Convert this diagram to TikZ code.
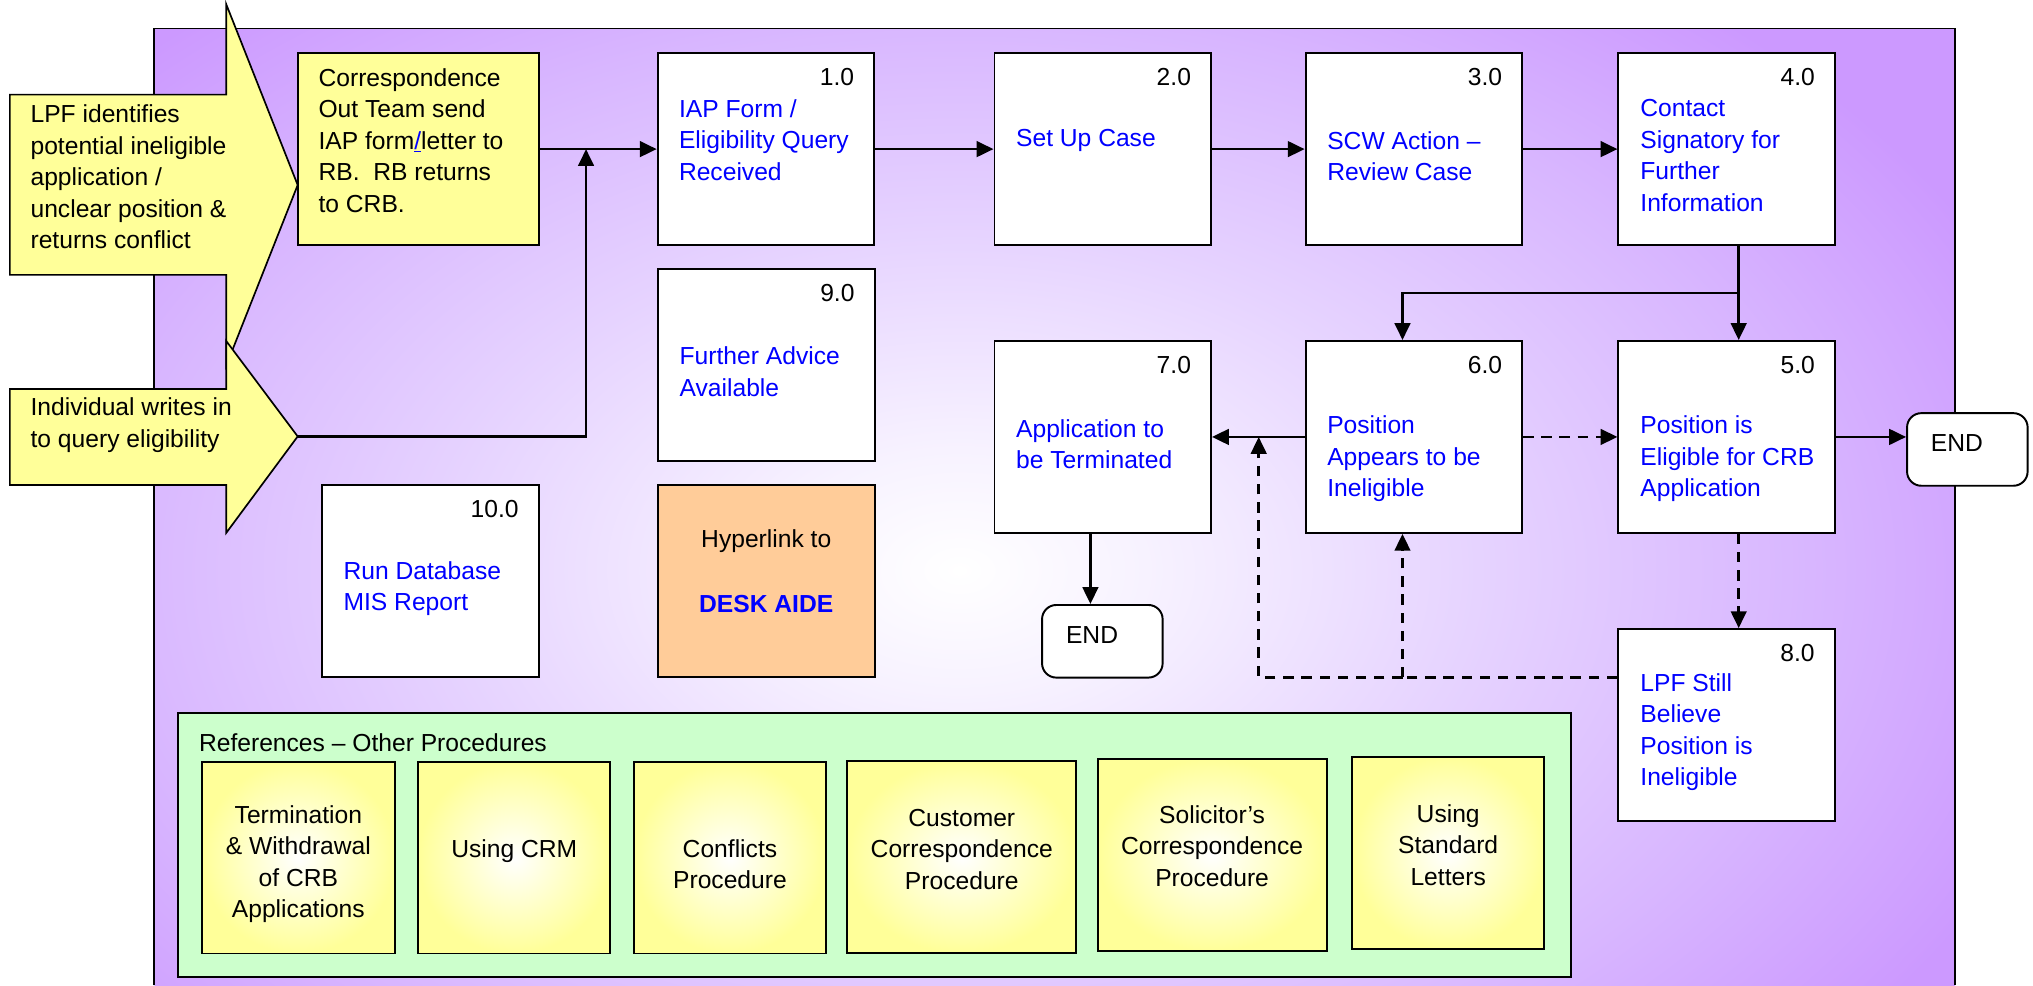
\documentclass[tikz,border=0pt]{standalone}
\usepackage{fontspec}
\setmainfont{Liberation Sans}
\usetikzlibrary{arrows.meta}
\definecolor{purp}{HTML}{CC99FF}
\definecolor{bgA}{HTML}{F7F2FF}
\definecolor{bgB}{HTML}{E6D3FF}
\definecolor{bgC}{HTML}{D8B6FF}
\definecolor{yel}{HTML}{FFFF99}
\definecolor{grn}{HTML}{CCFFCC}
\definecolor{peach}{HTML}{FFCC99}
\definecolor{txtblue}{HTML}{0000FF}
\pgfdeclareradialshading{bgshade}{\pgfpoint{0bp}{0bp}}{color(0bp)=(white); color(4.5bp)=(bgA); color(12.5bp)=(bgB); color(20.5bp)=(bgC); color(27.5bp)=(purp); color(50bp)=(purp)}
\begin{document}
\begin{tikzpicture}[x=1pt,y=-1pt,
  font=\fontsize{19}{24.3}\selectfont,
  pbox/.style={draw, line width=1.5pt, fill=white, inner sep=0pt, minimum width=167pt, minimum height=148pt},
  num/.style={anchor=east, inner sep=0pt},
  desc/.style={anchor=west, align=left, text=txtblue, inner sep=0pt},
  plain/.style={anchor=west, align=left, inner sep=0pt},
  ctext/.style={align=center, inner sep=0pt},
  arr/.style={line width=2.1pt, -{Triangle[length=13pt,width=12pt]}},
  ln/.style={line width=2.1pt},
  dsh/.style={dash pattern=on 8pt off 6pt},
  refbox/.style={draw, line width=1.5pt, inner color=white, outer color=yel, inner sep=0pt, minimum height=148pt},
  endbox/.style={draw, line width=1.5pt, fill=white, rounded corners=11pt, inner sep=0pt, minimum width=93pt, minimum height=56pt},
  bigarrow/.style={draw, line width=1.3pt, fill=yel, line join=miter}
]
\useasboundingbox (0,0) rectangle (1568,760);
% background panel
\fill[purp] (119,22) rectangle (1508,760);
\begin{scope}
  \clip (119,22) rectangle (1508,760);
  \shade[shading=bgshade] (-60,-80) rectangle (1540,960);
\end{scope}
\draw[line width=1.5pt] (119,760) -- (119,22) -- (1508,22) -- (1508,760);

% big input arrows
\draw[bigarrow] (7.6,73) -- (174.5,73) -- (174.5,3.3) -- (229.6,142.7) -- (174.5,282) -- (174.5,212) -- (7.6,212) -- cycle;
\coordinate (tip1) at (229.6,142.7);
\node[plain] (lpft) at (23.4,136.5) {LPF identifies\\potential ineligible\\application /\\unclear position \&\\returns conflict};
\draw[bigarrow] (7.6,300) -- (174.5,300) -- (174.5,263) -- (229.6,336.6) -- (174.5,411) -- (174.5,374) -- (7.6,374) -- cycle;
\coordinate (tip2) at (229.6,336.6);
\node[plain] (indt) at (23.4,328) {Individual writes in\\to query eligibility};

% correspondence box
\node[draw, line width=1.5pt, fill=yel, inner sep=0pt, minimum width=185.6pt, minimum height=147.7pt] (corr) at (322.8,115) {};
\node[plain] (corrt) at (245.5,108.5) {Correspondence\\Out Team send\\IAP form\textcolor{txtblue}{\underline{/}}letter to\\RB.\ \ RB returns\\to CRB.};

% process boxes
\node[pbox] (b1) at (590.75,115) {};
\node[pbox] (b2) at (850.5,115) {};
\node[pbox] (b3) at (1090.5,115) {};
\node[pbox] (b4) at (1331.75,115) {};
\node[pbox] (b9) at (591,281.5) {};
\node[pbox] (b10) at (332,448.2) {};
\node[pbox, fill=peach] (hyp) at (591.25,448.2) {};
\node[pbox] (b7) at (850.5,337) {};
\node[pbox] (b6) at (1090.5,337) {};
\node[pbox] (b5) at (1331.75,337) {};
\node[pbox] (b8) at (1331.5,559.2) {};

\node[num] (b1n) at ([xshift=-16pt,yshift=-19pt]b1.north east) {1.0};
\node[num] (b2n) at ([xshift=-16pt,yshift=-19pt]b2.north east) {2.0};
\node[num] (b3n) at ([xshift=-16pt,yshift=-19pt]b3.north east) {3.0};
\node[num] (b4n) at ([xshift=-16pt,yshift=-19pt]b4.north east) {4.0};
\node[num] (b5n) at ([xshift=-16pt,yshift=-19pt]b5.north east) {5.0};
\node[num] (b6n) at ([xshift=-16pt,yshift=-19pt]b6.north east) {6.0};
\node[num] (b7n) at ([xshift=-16pt,yshift=-19pt]b7.north east) {7.0};
\node[num] (b8n) at ([xshift=-16pt,yshift=-19pt]b8.north east) {8.0};
\node[num] (b9n) at ([xshift=-16pt,yshift=-19pt]b9.north east) {9.0};
\node[num] (b10n) at ([xshift=-16pt,yshift=-19pt]b10.north east) {10.0};

\node[desc] (b1t) at (523.5,108) {IAP Form /\\Eligibility Query\\Received};
\node[desc] (b2t) at (783.5,108.5) {Set Up Case};
\node[desc] (b3t) at (1023.5,120.5) {SCW Action --\\Review Case};
\node[desc] (b4t) at (1265,120) {Contact\\Signatory for\\Further\\Information};
\node[desc] (b5t) at (1265,354) {Position is\\Eligible for CRB\\Application};
\node[desc] (b6t) at (1023.5,354) {Position\\Appears to be\\Ineligible};
\node[desc] (b7t) at (783.5,342.5) {Application to\\be Terminated};
\node[desc] (b8t) at (1265,564.5) {LPF Still\\Believe\\Position is\\Ineligible};
\node[desc] (b9t) at (524,286.5) {Further Advice\\Available};
\node[desc] (b10t) at (264.8,454) {Run Database\\MIS Report};
\node[ctext] (hypt) at (591,417.5) {Hyperlink to};
\node[ctext, text=txtblue, font=\fontsize{19}{24.3}\selectfont\bfseries] (hypl) at (591,466) {DESK AIDE};

% END terminals
\node[endbox] (endR) at (1517.35,346.65) {};
\node[plain] (endRt) at (1489,342) {END};
\node[endbox] (endB) at (850.2,494.6) {};
\node[plain] (endBt) at (822,490) {END};

% references panel
\node[draw, line width=1.5pt, fill=grn, inner sep=0pt, minimum width=1074.3pt, minimum height=203.3pt] (refs) at (674.15,651.65) {};
\node[plain] (refst) at (153.3,572.5) {References -- Other Procedures};
\node[refbox, minimum width=149.2pt] (r1) at (230.1,661.4) {};
\node[refbox, minimum width=148.3pt] (r2) at (396.65,661.4) {};
\node[refbox, minimum width=148pt] (r3) at (563,661.4) {};
\node[refbox, minimum width=176.4pt] (r4) at (741.8,661) {};
\node[refbox, minimum width=176.7pt] (r5) at (934.85,659.3) {};
\node[refbox, minimum width=147.9pt] (r6) at (1116.95,657.75) {};
\node[ctext] (r1t) at (230.1,666.5) {Termination\\\& Withdrawal\\of CRB\\Applications};
\node[ctext] (r2t) at (396.65,656.5) {Using CRM};
\node[ctext] (r3t) at (563,666.5) {Conflicts\\Procedure};
\node[ctext] (r4t) at (741.8,655) {Customer\\Correspondence\\Procedure};
\node[ctext] (r5t) at (934.85,652.5) {Solicitor’s\\Correspondence\\Procedure};
\node[ctext] (r6t) at (1116.95,651.5) {Using\\Standard\\Letters};

% connectors
\coordinate (jc) at (452,115);
\draw[arr] (corr.east) -- (b1.west);
\draw[arr] (tip2) -| (jc);
\draw[arr] (b1.east) -- (b2.west);
\draw[arr] (b2.east) -- (b3.west);
\draw[arr] (b3.east) -- (b4.west);
\coordinate (j4) at (1341,226);
\draw[arr] (b4.south -| j4) -- (b5.north -| j4);
\draw[arr] (j4) -| (b6.north -| 1081.7,0);
\draw[arr] (b6.west) -- (b7.east);
\draw[arr, dsh] (b6.east) -- (b5.west);
\draw[arr] (b5.east) -- (b5.east -| endR.west);
\draw[arr] (b7.south -| 841,0) -- (endB.north -| 841,0);
\draw[arr, dsh] (b5.south -| j4) -- (b8.north -| j4);
\coordinate (j8) at (1081.7,522.4);
\coordinate (m67) at (970.8,337);
\draw[ln, dsh] (b8.west |- j8) -- (j8);
\draw[arr, dsh] (j8) -- (b6.south -| j8);
\draw[arr, dsh] (j8) -| (m67);
\end{tikzpicture}
\end{document}
